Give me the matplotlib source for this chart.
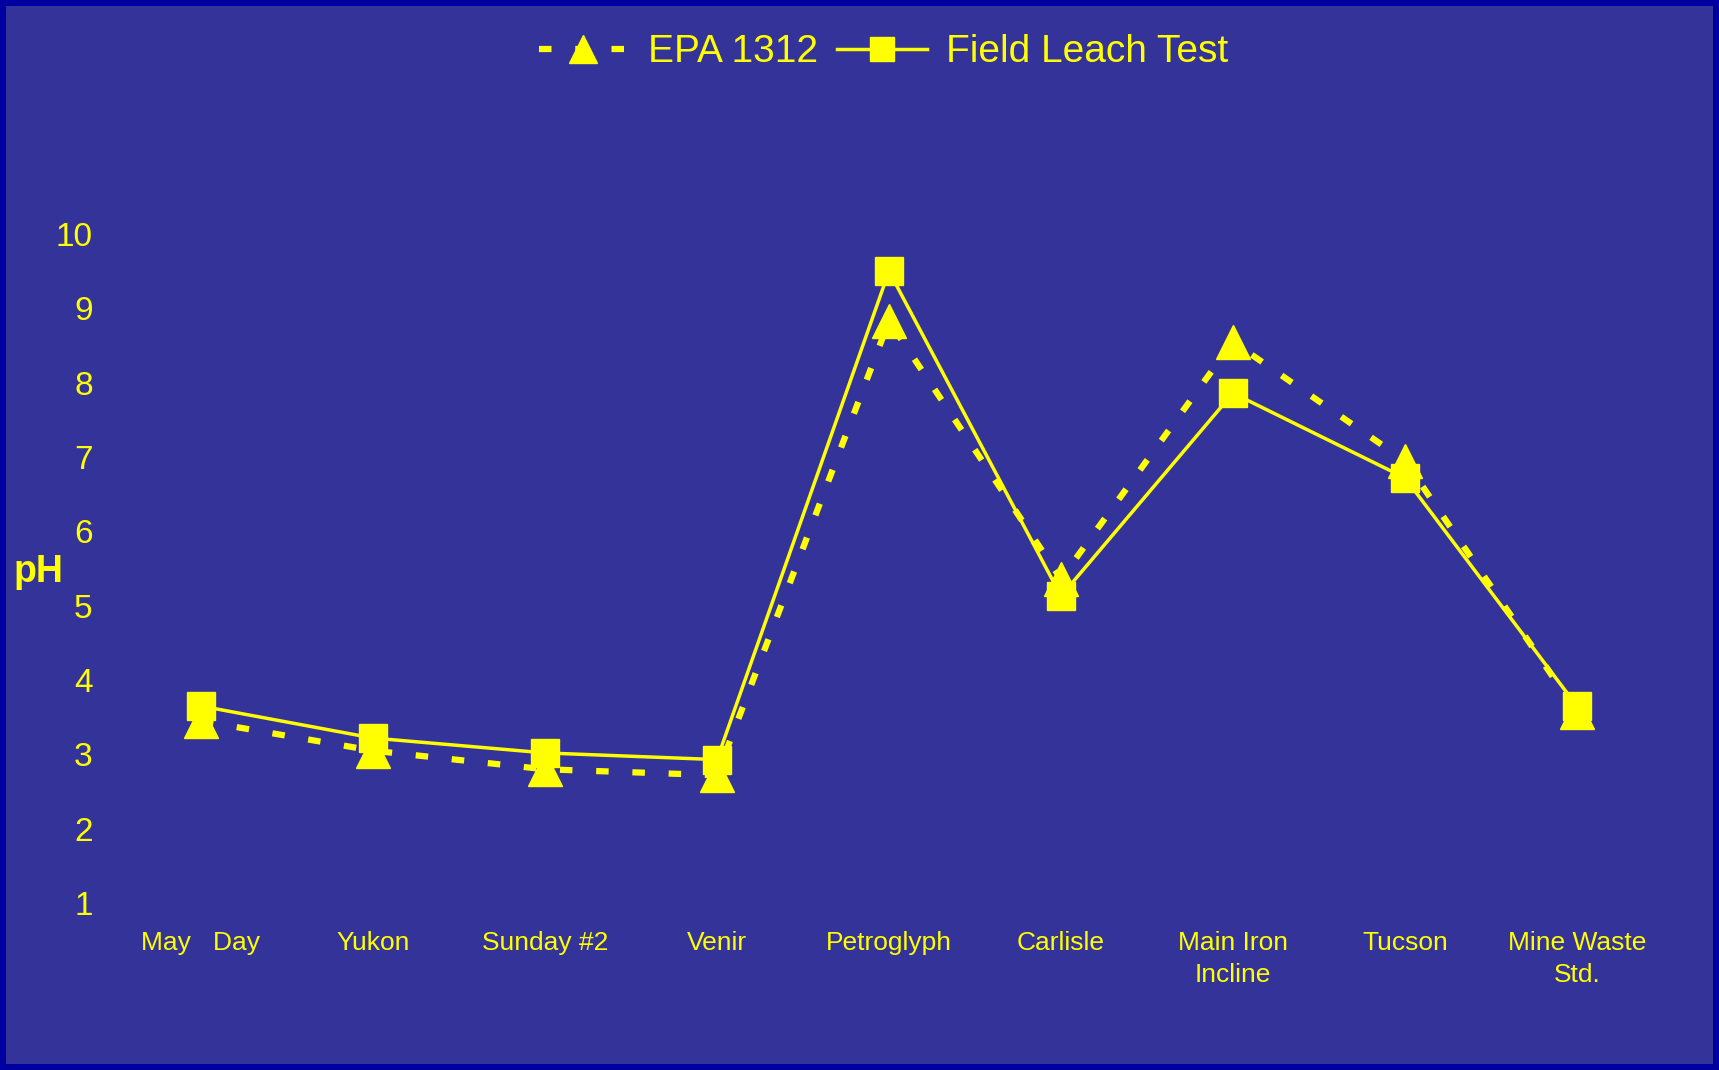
import matplotlib.pyplot as plt

plt.rcParams['font.family'] = ['Liberation Sans', 'DejaVu Sans']

sites = ['May   Day', 'Yukon', 'Sunday #2', 'Venir', 'Petroglyph', 'Carlisle',
         'Main Iron\nIncline', 'Tucson', 'Mine Waste\nStd.']
epa_1312 = [3.45, 3.05, 2.80, 2.72, 8.83, 5.36, 8.55, 6.95, 3.57]
field_leach = [3.65, 3.22, 3.02, 2.93, 9.50, 5.13, 7.86, 6.72, 3.65]

bg = '#333399'
yellow = '#FFFF00'

fig = plt.figure(figsize=(17.19, 10.70), dpi=100, facecolor=bg,
                 edgecolor='#0000A0', linewidth=7.5)
ax = fig.add_axes([0.0669, 0.156, 0.9005, 0.6253])
ax.set_facecolor(bg)

x = range(len(sites))
ax.plot(x, epa_1312, color=yellow, lw=4.5, dashes=(2, 3.8), dash_capstyle='butt',
        marker='^', markersize=24, label='EPA 1312', clip_on=False)
ax.plot(x, field_leach, color=yellow, lw=2.5, marker='s', markersize=20.5,
        label='Field Leach Test', clip_on=False)

ax.set_xlim(-0.5, len(sites) - 0.5)
ax.set_ylim(1, 10)
ax.set_xticks(list(x))
ax.set_xticklabels(sites, fontsize=19, color=yellow, linespacing=1.45)
ax.set_yticks(range(1, 11))
ax.set_yticklabels([str(v) for v in range(1, 11)], fontsize=24, color=yellow)
ax.tick_params(axis='x', length=0, pad=20)
ax.tick_params(axis='y', length=0, pad=16)
for s in ax.spines.values():
    s.set_visible(False)

ax.set_ylabel('pH', rotation=0, fontsize=27, fontweight='bold', color=yellow,
              ha='center', va='center')
ax.yaxis.set_label_coords(-0.0497, 0.495)

leg = fig.legend(loc='center', bbox_to_anchor=(0.514, 0.951), ncol=2, frameon=False,
                 fontsize=28, handlelength=2.3, handletextpad=0.5,
                 columnspacing=0.5, markerscale=0.85)
for t in leg.get_texts():
    t.set_color(yellow)

fig.savefig('out.png', dpi=100, facecolor=bg, edgecolor='#0000A0')
